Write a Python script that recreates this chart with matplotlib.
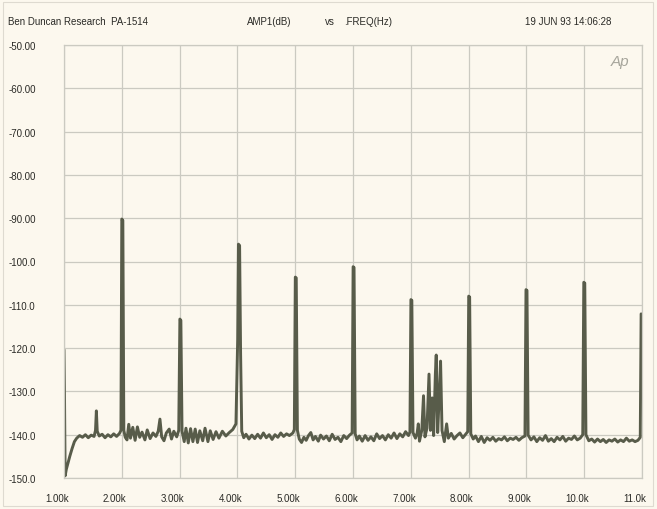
import numpy as np
import matplotlib
matplotlib.use("Agg")
import matplotlib.pyplot as plt
import matplotlib.transforms as mtransforms
import matplotlib.patches as mpatches

# ==== data ====
freq_khz = [
    1.000, 1.008, 1.020, 1.040, 1.070, 1.100, 1.140, 1.180, 1.220, 1.270,
    1.320, 1.370, 1.420, 1.470, 1.520, 1.545, 1.560, 1.575, 1.610, 1.660,
    1.710, 1.760, 1.810, 1.860, 1.910, 1.960, 1.985, 2.000, 2.018, 2.035,
    2.060, 2.090, 2.120, 2.150, 2.190, 2.230, 2.270, 2.310, 2.350, 2.400,
    2.440, 2.490, 2.540, 2.590, 2.630, 2.660, 2.690, 2.730, 2.770, 2.820,
    2.860, 2.900, 2.950, 2.985, 3.005, 3.022, 3.042, 3.080, 3.110, 3.150,
    3.190, 3.230, 3.270, 3.310, 3.350, 3.400, 3.440, 3.490, 3.530, 3.580,
    3.630, 3.680, 3.740, 3.800, 3.860, 3.920, 3.975, 4.005, 4.018, 4.038,
    4.055, 4.075, 4.110, 4.150, 4.200, 4.250, 4.300, 4.350, 4.400, 4.450,
    4.500, 4.550, 4.600, 4.650, 4.700, 4.750, 4.800, 4.850, 4.900, 4.960,
    4.985, 5.002, 5.018, 5.038, 5.070, 5.110, 5.150, 5.190, 5.230, 5.270,
    5.310, 5.350, 5.400, 5.440, 5.490, 5.540, 5.590, 5.640, 5.690, 5.740,
    5.790, 5.840, 5.890, 5.940, 5.985, 6.002, 6.018, 6.038, 6.070, 6.110,
    6.160, 6.210, 6.260, 6.310, 6.360, 6.410, 6.460, 6.510, 6.560, 6.610,
    6.660, 6.710, 6.760, 6.810, 6.860, 6.910, 6.960, 6.985, 7.002, 7.018,
    7.038, 7.080, 7.110, 7.130, 7.150, 7.190, 7.220, 7.245, 7.280, 7.315,
    7.340, 7.370, 7.395, 7.425, 7.440, 7.465, 7.495, 7.515, 7.540, 7.580,
    7.620, 7.650, 7.700, 7.750, 7.800, 7.850, 7.900, 7.950, 7.985, 8.002,
    8.018, 8.038, 8.080, 8.120, 8.170, 8.220, 8.270, 8.320, 8.370, 8.420,
    8.470, 8.520, 8.570, 8.620, 8.670, 8.720, 8.770, 8.820, 8.870, 8.920,
    8.975, 8.993, 9.010, 9.030, 9.080, 9.130, 9.180, 9.230, 9.280, 9.330,
    9.380, 9.430, 9.480, 9.530, 9.580, 9.630, 9.680, 9.730, 9.780, 9.830,
    9.880, 9.930, 9.975, 9.993, 10.010, 10.030, 10.080, 10.130, 10.180, 10.230,
    10.280, 10.330, 10.380, 10.430, 10.480, 10.530, 10.580, 10.630, 10.680, 10.730,
    10.780, 10.830, 10.880, 10.930, 10.970, 10.985, 11.000,
]
amp_db = [
    -120.6, -130.0, -149.5, -148.0, -146.5, -145.0, -143.2, -141.6, -140.8, -140.2,
    -140.6, -140.0, -140.7, -140.1, -140.4, -139.0, -134.5, -139.2, -140.3, -139.9,
    -140.7, -140.0, -140.5, -139.8, -140.4, -139.7, -139.0, -90.2, -90.5, -139.0,
    -140.6, -141.2, -137.6, -140.8, -138.3, -141.3, -138.2, -140.6, -139.4, -141.2,
    -138.9, -140.9, -139.6, -140.4, -139.2, -136.4, -140.5, -141.4, -139.6, -138.7,
    -141.0, -139.2, -140.5, -139.0, -113.3, -113.6, -139.2, -141.6, -138.5, -141.9,
    -138.6, -141.6, -138.7, -141.8, -139.1, -141.4, -138.5, -141.6, -139.1, -141.1,
    -139.3, -140.8, -139.2, -140.3, -139.5, -138.8, -137.5, -118.0, -96.0, -96.3,
    -121.0, -139.2, -140.7, -139.9, -141.0, -140.1, -140.9, -139.9, -140.8, -139.6,
    -140.7, -140.0, -141.1, -140.0, -140.6, -139.6, -140.4, -139.8, -140.2, -139.6,
    -138.8, -103.6, -103.8, -139.0, -141.0, -141.8, -140.6, -141.3, -140.2, -139.5,
    -141.2, -140.4, -141.5, -140.1, -141.0, -140.3, -141.4, -139.9, -141.1, -140.6,
    -141.6, -140.2, -140.9, -140.1, -139.6, -101.2, -101.4, -139.8, -141.2, -140.3,
    -141.5, -140.2, -141.3, -140.5, -141.4, -139.8, -140.9, -140.2, -141.2, -140.0,
    -140.8, -139.6, -140.9, -139.8, -140.5, -139.3, -140.2, -139.4, -108.8, -109.0,
    -139.5, -140.8, -139.6, -137.5, -141.5, -139.0, -131.0, -140.5, -138.5, -126.0,
    -139.0, -131.5, -140.2, -126.0, -121.6, -139.5, -130.0, -123.0, -139.0, -141.6,
    -137.5, -140.8, -139.7, -141.0, -140.2, -139.6, -140.7, -139.9, -139.3, -108.0,
    -108.2, -139.8, -141.0, -140.3, -141.6, -140.4, -141.8, -140.7, -141.3, -140.6,
    -141.5, -140.9, -141.2, -140.5, -141.4, -140.8, -141.1, -140.6, -141.3, -140.7,
    -140.3, -106.5, -106.7, -140.1, -141.2, -140.5, -141.6, -140.7, -141.3, -140.2,
    -141.5, -140.9, -141.6, -140.6, -141.2, -140.4, -141.5, -140.8, -141.1, -140.3,
    -141.2, -140.8, -140.0, -104.8, -105.0, -140.0, -141.4, -141.0, -141.7, -141.0,
    -141.6, -141.1, -141.8, -141.2, -141.5, -141.0, -141.7, -141.2, -141.6, -140.8,
    -141.5, -141.2, -141.6, -141.3, -140.6, -112.1, -112.4,
]

x_ticks = [1, 2, 3, 4, 5, 6, 7, 8, 9, 10, 11]
x_labels = ["1.00k", "2.00k", "3.00k", "4.00k", "5.00k", "6.00k",
            "7.00k", "8.00k", "9.00k", "10.0k", "11.0k"]
y_ticks = [-50, -60, -70, -80, -90, -100, -110, -120, -130, -140, -150]
y_labels = ["-50.00", "-60.00", "-70.00", "-80.00", "-90.00", "-100.0",
            "-110.0", "-120.0", "-130.0", "-140.0", "-150.0"]

# ==== style ====
paper = "#fcf8ee"
grid_c = "#cbcac1"
trace_c = "#585c4a"
text_c = "#2a2a26"
plt.rcParams["font.family"] = ["Liberation Sans", "DejaVu Sans"]
plt.rcParams["font.size"] = 7

fig = plt.figure(figsize=(6.57, 5.10), dpi=100, facecolor=paper)
ax = fig.add_axes([64 / 657, 1 - 479 / 510, 578 / 657, 433 / 510])
ax.set_facecolor(paper)

ax.plot(freq_khz, amp_db, color=trace_c, linewidth=2.1, solid_joinstyle="round")

ax.set_xlim(1, 11)
ax.set_ylim(-150, -50)
ax.set_xticks(x_ticks)
ax.set_xticklabels(x_labels, color=text_c)
ax.set_yticks(y_ticks)
ax.set_yticklabels(y_labels, color=text_c, ha="left")
ax.tick_params(axis="y", length=0, pad=40)
ax.tick_params(axis="x", length=0, pad=11)
ax.grid(True, color=grid_c, linewidth=0.9)
for s in ax.spines.values():
    s.set_color(grid_c)
    s.set_linewidth(0.9)

# x labels sit a little left of their grid lines
shift = mtransforms.ScaledTranslation(-7 / 100, 0, fig.dpi_scale_trans)
for lab in ax.get_xticklabels():
    lab.set_transform(lab.get_transform() + shift)

# ==== header ====
hy = 1 - 22 / 510
fig.text(8 / 657, hy, "Ben Duncan Research  PA-1514", color=text_c, va="center")
fig.text(247 / 657, hy, "AMP1(dB)", color=text_c, va="center")
fig.text(325 / 657, hy, "vs", color=text_c, va="center")
fig.text(344 / 657, hy, ".FREQ(Hz)", color=text_c, va="center")
fig.text(525 / 657, hy, "19 JUN 93 14:06:28", color=text_c, va="center")
fig.text(611 / 657, 1 - 62 / 510, "Ap", color="#a7a69c", va="center",
         fontsize=11, style="italic")

# faint outer border of the scanned sheet
fig.patches.append(mpatches.Rectangle((3 / 657, 3 / 510), 650 / 657, 504 / 510,
                                      transform=fig.transFigure, fill=False,
                                      edgecolor="#dedad0", linewidth=0.8))

plt.savefig("out.png", dpi=100, facecolor=paper)
